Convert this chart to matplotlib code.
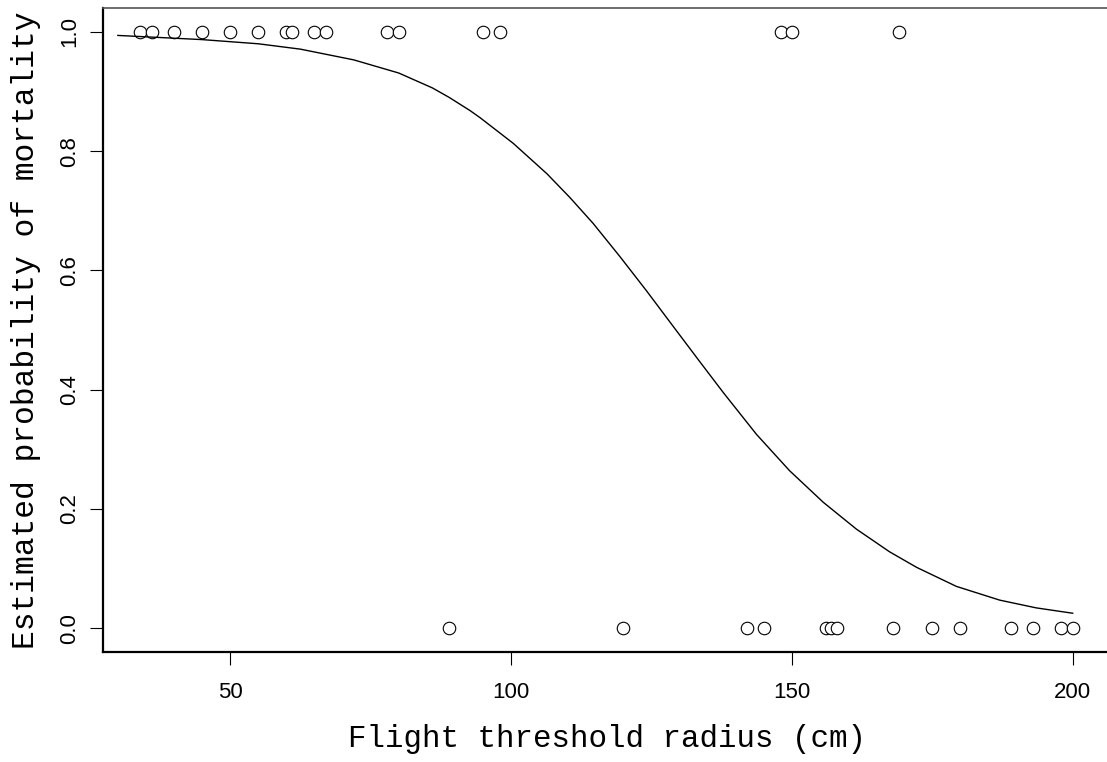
import numpy as np
import matplotlib
matplotlib.use("Agg")
import matplotlib.pyplot as plt

# observed outcomes: 1 = died, 0 = survived
radius_dead = [34, 36, 40, 45, 50, 55, 60, 61, 65, 67, 78, 80, 95, 98, 148, 150, 169]
radius_alive = [89, 120, 142, 145, 156, 157, 158, 168, 175, 180, 189, 193, 198, 200]

# fitted probability curve
curve_x = [30, 45, 55, 62.5, 72, 80, 86, 89, 92.7, 94.5, 100.4, 106.4, 110.5, 114.6,
           119.4, 124.1, 128.8, 133.6, 137.8, 143.7, 149.6, 155.6, 161.5, 167.4,
           172.2, 179.3, 187, 193.5, 200]
curve_p = [0.994, 0.987, 0.980, 0.971, 0.953, 0.931, 0.906, 0.890, 0.868, 0.856,
           0.813, 0.762, 0.722, 0.679, 0.623, 0.566, 0.507, 0.447, 0.395, 0.325,
           0.264, 0.211, 0.166, 0.128, 0.102, 0.070, 0.047, 0.034, 0.025]

xticks = [50, 100, 150, 200]
yticks = [0.0, 0.2, 0.4, 0.6, 0.8, 1.0]

fig = plt.figure(figsize=(11.07, 7.62), dpi=100)
ax = fig.add_axes([103 / 1107, 110 / 762, 1007 / 1107, 644 / 762])

x_all = np.array(radius_dead + radius_alive)
y_all = np.array([1] * len(radius_dead) + [0] * len(radius_alive))

ax.plot(x_all, y_all, linestyle="none", marker="o", ms=9, mfc="white",
        mec="black", mew=0.8)
ax.plot(curve_x, curve_p, color="black", lw=1.0, solid_joinstyle="round")

# R-style 4% padding
lo, hi = x_all.min(), x_all.max()
pad = 0.04 * (hi - lo)
ax.set_xlim(lo - pad, hi + pad)
ax.set_ylim(-0.04, 1.04)

ax.set_xticks(xticks)
ax.set_xticklabels([str(t) for t in xticks])
ax.set_yticks(yticks)
ax.set_yticklabels([f"{t:.1f}" for t in yticks], rotation=90, va="center")

ax.tick_params(axis="both", direction="out", length=9.5, width=0.8,
               labelsize=16, colors="black")
ax.tick_params(axis="x", pad=12)
ax.tick_params(axis="y", pad=7)
for lab in ax.get_xticklabels() + ax.get_yticklabels():
    lab.set_family("Liberation Sans")

ax.spines["right"].set_visible(False)
ax.spines["left"].set_linewidth(1.6)
ax.spines["bottom"].set_linewidth(1.6)
ax.spines["top"].set_linewidth(1.2)
ax.spines["top"].set_color("#555555")

ax.set_xlabel("Flight threshold radius (cm)", family="Liberation Mono",
              fontsize=22.2, labelpad=15)
ax.set_ylabel("Estimated probability of mortality", family="Liberation Mono",
              fontsize=22.5, labelpad=13)

fig.savefig("out.png", dpi=100)
